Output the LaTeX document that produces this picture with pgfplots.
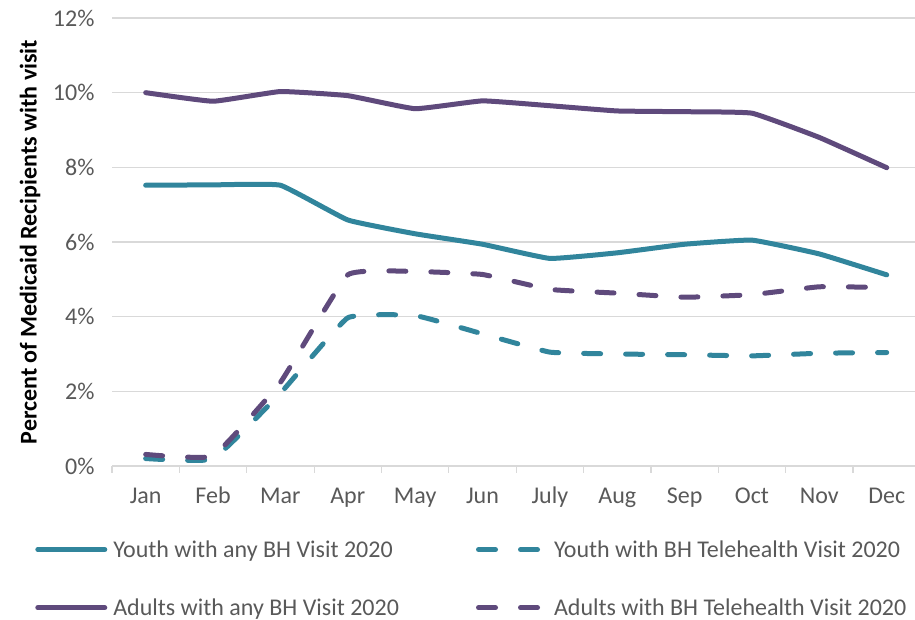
\documentclass[border=0pt]{standalone}
\usepackage{fontspec}
\setmainfont{Carlito}
\usepackage{pgfplots}
\pgfplotsset{compat=1.18}
\definecolor{myteal}{HTML}{31859C}
\definecolor{mypurple}{HTML}{5F4A7C}
\definecolor{gridgray}{HTML}{D9D9D9}
\definecolor{txtgray}{HTML}{595959}
\begin{document}
\begin{tikzpicture}[x=1pt,y=1pt]
\useasboundingbox (0,0) rectangle (915,620);
\begin{axis}[
  at={(112pt,154pt)}, anchor=south west,
  scale only axis, width=803pt, height=448pt,
  xmin=-0.5, xmax=11.42, ymin=0, ymax=12,
  separate axis lines,
  axis x line*=bottom, axis y line*=left,
  y axis line style={draw=none},
  x axis line style={draw=gridgray, line width=1.2pt},
  ymajorgrids, grid style={draw=gridgray, line width=1.2pt},
  xtick={0,...,11},
  xticklabels={Jan,Feb,Mar,Apr,May,Jun,July,Aug,Sep,Oct,Nov,Dec},
  minor xtick={-0.5,0.5,...,10.5},
  major tick length=0pt, minor tick length=7pt, tick align=outside,
  minor x tick style={draw=gridgray, line width=1.2pt},
  ytick={0,2,...,12},
  yticklabels={0\%,2\%,4\%,6\%,8\%,10\%,12\%},
  tick label style={font=\fontsize{24}{28}\selectfont, text=txtgray},
  y tick label style={xshift=-14pt},
  x tick label style={text height=16pt, text depth=5pt, yshift=-18pt},
  ylabel={Percent of Medicaid Recipients with visit},
  ylabel style={font=\bfseries\fontsize{24}{28}\selectfont, at={(axis description cs:-0.102,0.5)}, anchor=center},
  every axis plot/.append style={line width=5pt, smooth, tension=0.2, line cap=round, line join=round},
  legend columns=2,
  legend cell align=left,
  legend image code/.code={\draw[#1] (0pt,0pt) -- (67pt,0pt); \path (71pt,0pt);},
  legend style={draw=none, fill=none, at={(axis description cs:-0.0995,-0.157)}, anchor=north west,
    font=\fontsize{24}{28}\selectfont, text=txtgray, row sep=36pt,
    /tikz/every even column/.append style={column sep=75pt}},
]
\addplot[myteal] coordinates {(0,7.52) (1,7.53) (2,7.52) (3,6.59) (4,6.22) (5,5.94) (6,5.56) (7,5.71) (8,5.94) (9,6.05) (10,5.68) (11,5.12)};
\addlegendentry{Youth with any BH Visit 2020}
\addplot[myteal, dash pattern=on 17pt off 25pt] coordinates {(0,0.20) (1,0.19) (2,1.95) (3,3.97) (4,4.03) (5,3.54) (6,3.05) (7,3.00) (8,2.98) (9,2.95) (10,3.02) (11,3.04)};
\addlegendentry{Youth with BH Telehealth Visit 2020}
\addplot[mypurple] coordinates {(0,10.0) (1,9.77) (2,10.03) (3,9.92) (4,9.57) (5,9.78) (6,9.65) (7,9.51) (8,9.49) (9,9.45) (10,8.80) (11,7.99)};
\addlegendentry{Adults with any BH Visit 2020}
\addplot[mypurple, dash pattern=on 17pt off 25pt] coordinates {(0,0.31) (1,0.27) (2,2.24) (3,5.12) (4,5.21) (5,5.13) (6,4.73) (7,4.63) (8,4.52) (9,4.59) (10,4.80) (11,4.78)};
\addlegendentry{Adults with BH Telehealth Visit 2020}
\end{axis}
\end{tikzpicture}
\end{document}
